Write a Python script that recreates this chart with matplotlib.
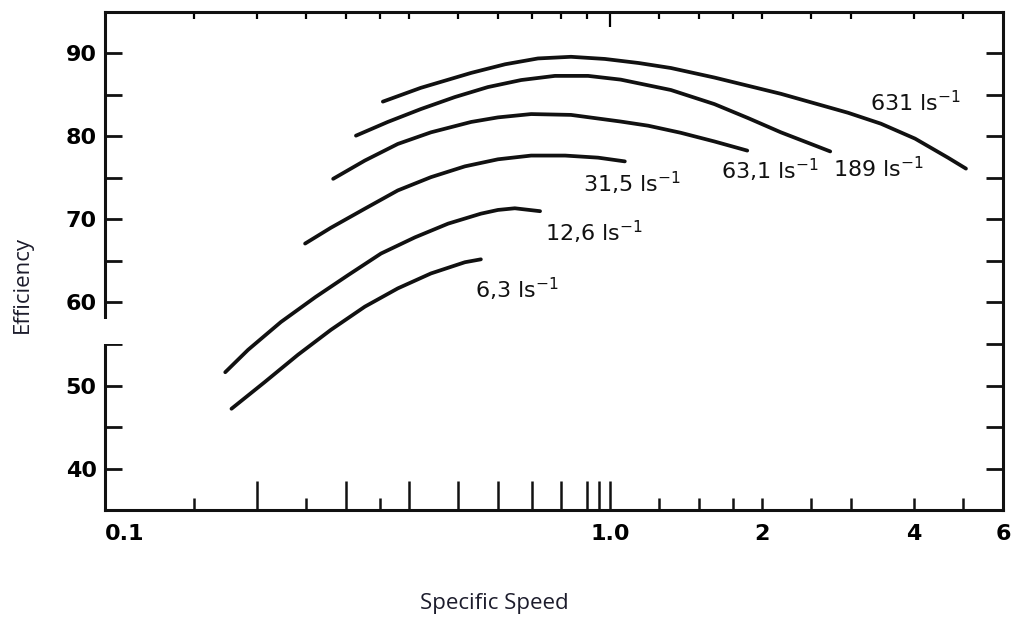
import matplotlib
matplotlib.use("Agg")
import matplotlib.pyplot as plt
from matplotlib.patches import Rectangle

plt.rcParams["font.family"] = ["DejaVu Sans"]
plt.rcParams["mathtext.fontset"] = "dejavusans"

# curve data (specific speed, efficiency %)
x_6_3 = [0.178, 0.207, 0.241, 0.280, 0.327, 0.380, 0.442, 0.516, 0.555]
y_6_3 = [47.2, 50.4, 53.7, 56.7, 59.5, 61.7, 63.5, 64.85, 65.2]

x_12_6 = [0.173, 0.192, 0.223, 0.261, 0.303, 0.352, 0.411, 0.478, 0.555, 0.600, 0.648, 0.727]
y_12_6 = [51.6, 54.3, 57.65, 60.65, 63.3, 65.9, 67.85, 69.5, 70.7, 71.15, 71.35, 71.0]

x_31_5 = [0.249, 0.280, 0.327, 0.380, 0.442, 0.516, 0.600, 0.698, 0.815, 0.947, 1.07]
y_31_5 = [67.1, 69.0, 71.3, 73.5, 75.1, 76.4, 77.25, 77.7, 77.7, 77.45, 77.0]

x_63_1 = [0.283, 0.327, 0.380, 0.442, 0.531, 0.600, 0.698, 0.837, 1.05, 1.19, 1.38, 1.61, 1.87]
y_63_1 = [74.9, 77.1, 79.1, 80.5, 81.75, 82.3, 82.7, 82.6, 81.8, 81.3, 80.45, 79.4, 78.3]

x_189 = [0.314, 0.363, 0.422, 0.493, 0.573, 0.667, 0.778, 0.905, 1.05, 1.32, 1.61, 1.88, 2.18, 2.55, 2.73]
y_189 = [80.1, 81.75, 83.3, 84.75, 85.95, 86.8, 87.3, 87.3, 86.85, 85.6, 83.9, 82.2, 80.5, 78.9, 78.2]

x_631 = [0.355, 0.422, 0.531, 0.620, 0.720, 0.837, 0.977, 1.14, 1.32, 1.61, 2.18, 2.96, 3.44, 4.02, 4.67, 5.07]
y_631 = [84.2, 85.86, 87.66, 88.7, 89.4, 89.6, 89.34, 88.85, 88.25, 87.1, 85.14, 82.86, 81.54, 79.74, 77.45, 76.13]

curves = [(x_6_3, y_6_3), (x_12_6, y_12_6), (x_31_5, y_31_5),
          (x_63_1, y_63_1), (x_189, y_189), (x_631, y_631)]

# curve labels: text, left edge x, centre y
label_text = ["6,3 ls$^{-1}$", "12,6 ls$^{-1}$", "31,5 ls$^{-1}$",
              "63,1 ls$^{-1}$", "189 ls$^{-1}$", "631 ls$^{-1}$"]
label_x = [0.541, 0.743, 0.884, 1.66, 2.76, 3.27]
label_y = [61.6, 68.45, 74.3, 75.9, 76.1, 84.06]

# axis ticks
x_label_vals = [0.1, 1.0, 2, 4, 6]
x_label_text = ["0.1", "1.0", "2", "4", "6"]
bottom_long = [0.2, 0.3, 0.4, 0.5, 0.6, 0.7, 0.8, 0.9, 0.95, 1.0]
bottom_short = [0.15, 0.25, 0.35, 1.25, 1.5, 1.75, 2, 2.5, 3, 4, 5]
top_long = [1.0]
top_short = [0.15, 0.2, 0.25, 0.3, 0.35, 0.4, 0.5, 0.6, 0.7, 0.8, 0.9,
             1.25, 1.5, 1.75, 2, 2.5, 3, 4, 5]
y_major = [40, 50, 60, 70, 80, 90]
y_minor = [45, 55, 65, 75, 85]

fig = plt.figure(figsize=(10.12, 6.17), dpi=100)
ax = fig.add_axes([0.1038, 0.1734, 0.8872, 0.8072])

for xs, ys in curves:
    ax.plot(xs, ys, color="#111111", lw=2.7, solid_capstyle="round",
            solid_joinstyle="round")

for t, lx, ly in zip(label_text, label_x, label_y):
    ax.text(lx, ly, t, fontsize=16, ha="left", va="center", color="#111111")

ax.set_xscale("log")
ax.set_xlim(0.1, 6)
ax.set_ylim(35, 95)

for s in ax.spines.values():
    s.set_linewidth(2.2)
    s.set_color("#111111")

# bottom tick marks
ax.set_xticks(bottom_long)
ax.set_xticks(bottom_short, minor=True)
ax.tick_params(axis="x", which="major", direction="in", length=21, width=1.8,
               labelbottom=False, color="#111111")
ax.tick_params(axis="x", which="minor", direction="in", length=9, width=1.8,
               labelbottom=False, color="#111111")

# bottom labels on their own axis
lab = ax.secondary_xaxis("bottom")
lab.set_xticks(x_label_vals, x_label_text)
lab.set_xticks([], minor=True)
lab.tick_params(which="both", length=0, pad=10, labelsize=16)
lab.spines["bottom"].set_visible(False)
for t in lab.get_xticklabels():
    t.set_fontweight("bold")
lab.get_xticklabels()[0].set_ha("left")

# top tick marks
top = ax.secondary_xaxis("top")
top.set_xticks(top_long, ["" for _ in top_long])
top.set_xticks(top_short, ["" for _ in top_short], minor=True)
top.tick_params(which="major", direction="in", length=11, width=1.6)
top.tick_params(which="minor", direction="in", length=5, width=1.6)
top.spines["top"].set_visible(False)

# y ticks both sides
ax.set_yticks(y_major)
ax.set_yticks(y_minor, minor=True)
ax.tick_params(axis="y", which="both", direction="in", length=12, width=2,
               left=True, right=True, labelsize=16, pad=6, color="#111111")
for t in ax.get_yticklabels():
    t.set_fontweight("bold")

ax.set_ylabel("Efficiency", fontsize=16, family=["Open Sans", "DejaVu Sans"],
              color="#1c1c2c", va="center")
ax.yaxis.set_label_coords(-0.0924, 0.452)
ax.set_xlabel("Specific Speed", fontsize=16, family=["Open Sans", "DejaVu Sans"],
              color="#1c1c2c", va="center")
ax.xaxis.set_label_coords(0.434, -0.187)

# white box over the left spine (gap in the original scan)
fig.add_artist(Rectangle((95 / 1012, 1 - 344 / 617), 50 / 1012, 25 / 617,
                         transform=fig.transFigure, facecolor="white",
                         edgecolor="none", zorder=10))

fig.savefig("out.png", dpi=100)
